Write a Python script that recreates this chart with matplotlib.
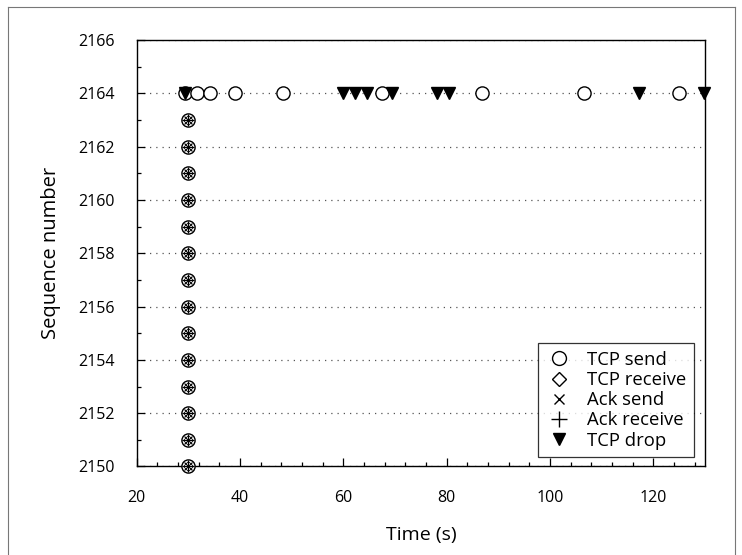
import numpy as np
import matplotlib
matplotlib.use("Agg")
import matplotlib.pyplot as plt
from matplotlib.lines import Line2D
from matplotlib.ticker import MultipleLocator

plt.rcParams['font.family'] = ['Open Sans', 'DejaVu Sans']

# --- data
send_t = [29.4, 31.7, 34.1, 39.0, 48.4, 67.5, 86.8, 106.5, 124.9]
send_seq = [2164] * len(send_t)
drop_t = [29.4, 60.0, 62.3, 64.5, 69.4, 78.1, 80.4, 117.2, 129.9]
drop_seq = [2164] * len(drop_t)
# burst of segments at t=30: sent, received, acked
burst_t = [29.9] * 14
burst_seq = list(range(2150, 2164))

labels = ['TCP send', 'TCP receive', 'Ack send', 'Ack receive', 'TCP drop']

fig = plt.figure(figsize=(7.42, 5.55), dpi=100)
ax = fig.add_axes([0.1842, 0.1595, 0.7659, 0.7684])

ms = 9.5
ax.plot(send_t + burst_t, send_seq + burst_seq, 'o', mfc='white', mec='black',
        mew=1.0, ms=ms, clip_on=False, zorder=3)
ax.plot(burst_t, burst_seq, 'D', mfc='none', mec='black', mew=0.6, ms=ms * 0.55,
        clip_on=False, zorder=4)
ax.plot(burst_t, burst_seq, 'x', color='black', mew=0.8, ms=ms * 0.68,
        clip_on=False, zorder=4)
ax.plot(burst_t, burst_seq, '+', color='black', mew=0.8, ms=ms * 0.95,
        clip_on=False, zorder=4)
ax.plot(drop_t, drop_seq, 'v', color='black', ms=9, clip_on=False, zorder=5)

ax.set_xlim(20, 130)
ax.set_ylim(2150, 2166)
ax.xaxis.set_major_locator(MultipleLocator(20))
ax.xaxis.set_minor_locator(MultipleLocator(4))
ax.yaxis.set_major_locator(MultipleLocator(2))
ax.yaxis.set_minor_locator(MultipleLocator(1))
ax.set_xticks([20, 40, 60, 80, 100, 120])
ax.tick_params(which='both', direction='in', top=False, right=False, width=0.9)
ax.tick_params(which='major', length=6)
ax.tick_params(which='minor', length=3)
ax.tick_params(axis='x', which='major', pad=17)
ax.tick_params(axis='y', which='major', pad=16)
for lab in ax.get_xticklabels() + ax.get_yticklabels():
    lab.set_family(['Liberation Sans Narrow', 'Open Sans', 'DejaVu Sans'])
    lab.set_fontsize(11.5)
ax.yaxis.grid(True, linestyle=(0, (1, 4)), color='#555555', linewidth=0.9)
for s in ax.spines.values():
    s.set_linewidth(1.0)

ax.set_xlabel('Time (s)', fontsize=14, labelpad=14)
ax.set_ylabel('Sequence number', fontsize=14.5, labelpad=12)

# legend symbols drawn a bit larger than the overlapped plot markers
handles = [
    Line2D([], [], ls='none', marker='o', mfc='white', mec='black', mew=1.0, ms=10),
    Line2D([], [], ls='none', marker='D', mfc='white', mec='black', mew=1.0, ms=7.5),
    Line2D([], [], ls='none', marker='x', color='black', mew=1.0, ms=7),
    Line2D([], [], ls='none', marker='+', color='black', mew=1.0, ms=11),
    Line2D([], [], ls='none', marker='v', color='black', ms=9),
]
leg = ax.legend(handles, labels, loc='lower right', bbox_to_anchor=(0.98, 0.022),
                fontsize=13.3, frameon=True, fancybox=False, edgecolor='black',
                handlelength=1.5, handletextpad=0.75, borderpad=0.4,
                labelspacing=0.12, borderaxespad=0.0)
leg.get_frame().set_linewidth(0.9)

# thin border lines round the figure (bottom edge not visible in the scan)
for xs, ys in [([0.011, 0.011], [0.0, 0.987]), ([0.011, 0.991], [0.987, 0.987]),
               ([0.991, 0.991], [0.0, 0.987])]:
    fig.add_artist(Line2D(xs, ys, transform=fig.transFigure, color='#777777', lw=0.8))

fig.savefig('out.png', dpi=100)
